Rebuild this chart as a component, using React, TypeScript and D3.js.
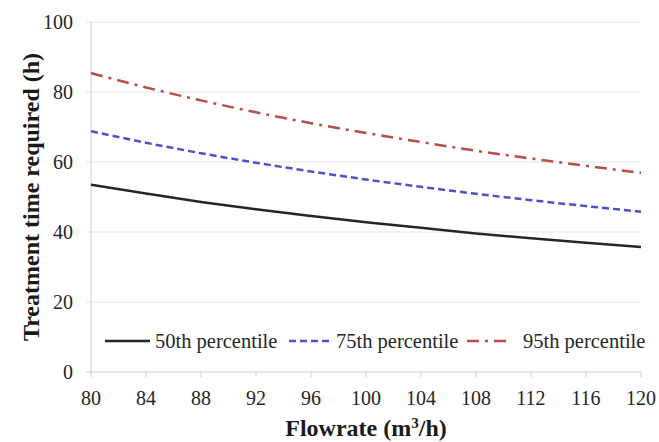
import React, { useEffect, useRef } from "react";
import * as d3 from "d3";

const flowrates = [80, 84, 88, 92, 96, 100, 104, 108, 112, 116, 120];
const p50 = [53.5, 51.0, 48.6, 46.5, 44.6, 42.8, 41.2, 39.6, 38.2, 36.9, 35.7];
const p75 = [68.8, 65.5, 62.5, 59.8, 57.3, 55.0, 52.9, 50.9, 49.1, 47.4, 45.8];
const p95 = [85.4, 81.3, 77.6, 74.2, 71.1, 68.3, 65.7, 63.2, 61.0, 58.9, 56.9];
const seriesNames = ["50th percentile", "75th percentile", "95th percentile"];
const xTicks = [80, 84, 88, 92, 96, 100, 104, 108, 112, 116, 120];
const yTicks = [0, 20, 40, 60, 80, 100];

const W = 659, H = 442;
const M = { left: 91, right: 18, top: 22, bottom: 70 };

export default function App() {
  const ref = useRef<SVGSVGElement>(null);
  useEffect(() => {
    const svg = d3.select(ref.current);
    svg.selectAll("*").remove();
    const font = "Liberation Serif, Times New Roman, serif";
    const x = d3.scaleLinear().domain([80, 120]).range([M.left, W - M.right]);
    const y = d3.scaleLinear().domain([0, 100]).range([H - M.bottom, M.top]);

    svg.append("rect").attr("width", W).attr("height", H).attr("fill", "#fff");

    svg.append("g").selectAll("line").data(yTicks.filter(d => d > 0)).join("line")
      .attr("x1", M.left - 5).attr("x2", W - M.right)
      .attr("y1", d => y(d)).attr("y2", d => y(d))
      .attr("stroke", "#e6e6e6").attr("stroke-width", 1);

    svg.append("line").attr("x1", M.left).attr("x2", M.left)
      .attr("y1", y(100)).attr("y2", y(0)).attr("stroke", "#cfcfcf");
    svg.append("line").attr("x1", M.left - 5).attr("x2", W - M.right)
      .attr("y1", y(0)).attr("y2", y(0)).attr("stroke", "#cfcfcf");
    svg.append("g").selectAll("line").data(xTicks).join("line")
      .attr("x1", d => x(d)).attr("x2", d => x(d))
      .attr("y1", y(0)).attr("y2", y(0) + 5).attr("stroke", "#cfcfcf");

    svg.append("g").selectAll("text").data(yTicks).join("text")
      .attr("x", M.left - 18).attr("y", d => y(d)).attr("dy", "0.35em")
      .attr("text-anchor", "end").style("font-family", font).attr("font-size", 20)
      .attr("fill", "#262626").text(d => d);
    svg.append("g").selectAll("text").data(xTicks).join("text")
      .attr("x", d => x(d)).attr("y", y(0) + 33)
      .attr("text-anchor", "middle").style("font-family", font).attr("font-size", 20)
      .attr("fill", "#262626").text(d => d);

    const xt = svg.append("text").attr("x", (M.left + W - M.right) / 2).attr("y", 436)
      .attr("text-anchor", "middle").style("font-family", font).attr("font-size", 24)
      .attr("font-weight", "bold").attr("fill", "#1a1a1a");
    xt.append("tspan").text("Flowrate (m");
    xt.append("tspan").attr("baseline-shift", "super").attr("font-size", 15).text("3");
    xt.append("tspan").text("/h)");
    svg.append("text").attr("transform", `translate(39,${(y(0) + y(100)) / 2}) rotate(-90)`)
      .attr("text-anchor", "middle").style("font-family", font).attr("font-size", 24)
      .attr("font-weight", "bold").attr("fill", "#1a1a1a").text("Treatment time required (h)");

    const styles = [
      { data: p50, color: "#262626", dash: null },
      { data: p75, color: "#5050c8", dash: "7,4" },
      { data: p95, color: "#b84d4a", dash: "12,6,3,6" },
    ];
    const line = d3.line<number>().x((_, i) => x(flowrates[i])).y(d => y(d)).curve(d3.curveMonotoneX);
    styles.forEach(s => {
      svg.append("path").attr("d", line(s.data)).attr("fill", "none")
        .attr("stroke", s.color).attr("stroke-width", 2.5)
        .attr("stroke-dasharray", s.dash as any);
    });

    const legY = 341;
    const legItems = [
      { lx: 105, lw: 45, tx: 155 },
      { lx: 289, lw: 44, tx: 336 },
      { lx: 467, lw: 41, tx: 523 },
    ];
    legItems.forEach((it, i) => {
      const s = styles[i];
      svg.append("line").attr("x1", it.lx).attr("x2", it.lx + it.lw)
        .attr("y1", legY).attr("y2", legY).attr("stroke", s.color).attr("stroke-width", 2.5)
        .attr("stroke-dasharray", s.dash as any);
      svg.append("text").attr("x", it.tx).attr("y", legY).attr("dy", "0.35em")
        .style("font-family", font).attr("font-size", 20.5).attr("fill", "#262626")
        .text(seriesNames[i]);
    });
  }, []);
  return <svg ref={ref} width={W} height={H} style={{ display: "block", position: "absolute", left: 0, top: 0 }} />;
}
